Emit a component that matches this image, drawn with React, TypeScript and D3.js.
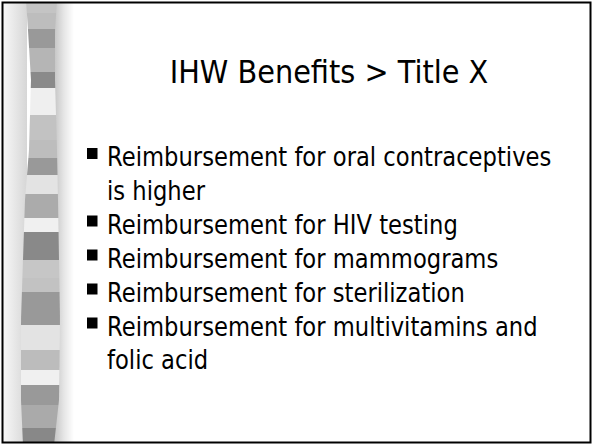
import React from "react";
import * as d3 from "d3";

const W = 592;
const H = 445;

const title = "IHW Benefits > Title X";

const bulletItems: string[][] = [
  ["Reimbursement for oral contraceptives", "is higher"],
  ["Reimbursement for HIV testing"],
  ["Reimbursement for mammograms"],
  ["Reimbursement for sterilization"],
  ["Reimbursement for multivitamins and", "folic acid"],
];

// decorative stripe band on the left: segment boundaries and gray levels
const stripeBounds = [3, 13, 29, 48, 72, 88, 115, 140, 158, 175, 194, 218, 232, 260, 278, 292, 325, 350, 370, 385, 405, 428, 443];
const stripeGrays = [196, 189, 153, 181, 138, 239, 194, 189, 153, 227, 171, 240, 137, 198, 194, 153, 227, 188, 240, 153, 170, 136];
const edgeY = [0, 30, 80, 150, 200, 260, 320, 400, 445];
const edgeLeft = [26, 28, 31, 29, 25, 23, 21, 21, 23];
const edgeRight = [57, 55, 55, 57, 58, 59, 60, 59, 54];

export default function App() {
  const leftX = d3.scaleLinear().domain(edgeY).range(edgeLeft);
  const rightX = d3.scaleLinear().domain(edgeY).range(edgeRight);

  const stripes = stripeGrays.map((g, i) => {
    const y0 = stripeBounds[i];
    const y1 = stripeBounds[i + 1];
    const ys = d3.range(y0, y1 + 0.001, Math.max(1, (y1 - y0) / 4));
    if (ys[ys.length - 1] !== y1) ys.push(y1);
    const pts: [number, number][] = [
      ...ys.map((y) => [leftX(y), y] as [number, number]),
      ...ys.slice().reverse().map((y) => [rightX(y), y] as [number, number]),
    ];
    const c = d3.rgb(g, g, g).formatHex();
    return { d: "M" + pts.map((p) => p.join(",")).join("L") + "Z", c };
  });

  // text layout
  const font = "Tahoma, 'DejaVu Sans', sans-serif";
  const textX = 107;
  const lineGap = 33.5;
  const paraGap = 34;
  let y = 166;
  const lines: { text: string; y: number; bullet: boolean }[] = [];
  bulletItems.forEach((item, pi) => {
    if (pi > 0) y += paraGap;
    item.forEach((t, li) => {
      if (li > 0) y += lineGap;
      lines.push({ text: t, y, bullet: li === 0 });
    });
  });

  return (
    <svg width={W} height={H} style={{ position: "absolute", left: 0, top: 0, background: "#fff" }}>
      <defs>
        <linearGradient id="leftShade" x1="0" x2="1" y1="0" y2="0">
          <stop offset="0" stopColor="#f8f8f8" />
          <stop offset="1" stopColor="#d6d6d6" />
        </linearGradient>
        <linearGradient id="rightShade" x1="0" x2="1" y1="0" y2="0">
          <stop offset="0" stopColor="#c4c4c4" />
          <stop offset="0.5" stopColor="#e6e6e6" />
          <stop offset="1" stopColor="#ffffff" />
        </linearGradient>
      </defs>
      <rect x={0} y={0} width={W} height={H} fill="#fff" />
      <rect x={3} y={3} width={24} height={439} fill="url(#leftShade)" />
      <rect x={54} y={3} width={20} height={439} fill="url(#rightShade)" />
      {stripes.map((s, i) => (
        <path key={i} d={s.d} fill={s.c} />
      ))}
      <rect x={2.5} y={2.5} width={588} height={440} fill="none" stroke="#000" strokeWidth={2} />

      <g transform={`translate(329,83) scale(0.9,1)`}>
        <text x={0} y={0} textAnchor="middle" fontFamily={font} fontSize={32} fill="#000">
          {title}
        </text>
      </g>

      {lines.map((l, i) => (
        <g key={i}>
          {l.bullet && <rect x={87} y={l.y - 18} width={10.5} height={11} fill="#000" />}
          <g transform={`translate(${textX},${l.y}) scale(0.84,1)`}>
            <text x={0} y={0} fontFamily={font} fontSize={27} fill="#000">
              {l.text}
            </text>
          </g>
        </g>
      ))}
    </svg>
  );
}
